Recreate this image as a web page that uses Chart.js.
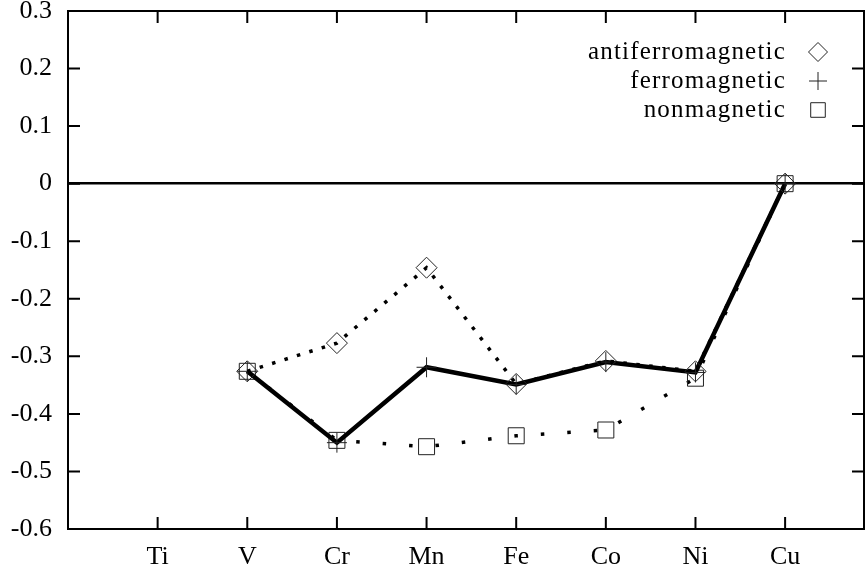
<!DOCTYPE html>
<html>
<head>
<meta charset="utf-8">
<script src="https://cdn.jsdelivr.net/npm/chart.js@4/dist/chart.umd.min.js"></script>
<style>
  body { margin: 0; background: #fff; }
  canvas { display: block; }
</style>
</head>
<body>
<canvas id="chart" width="865" height="571"></canvas>
<script>
var elements = ['Ti', 'V', 'Cr', 'Mn', 'Fe', 'Co', 'Ni', 'Cu'];
var yTicks = [-0.6, -0.5, -0.4, -0.3, -0.2, -0.1, 0, 0.1, 0.2, 0.3];

// values for V .. Cu
var seriesElements = ['V', 'Cr', 'Mn', 'Fe', 'Co', 'Ni', 'Cu'];
var antiferro = [-0.326, -0.277, -0.146, -0.348, -0.308, -0.326, 0];
var ferro = [-0.326, -0.45, -0.319, -0.349, -0.31, -0.328, 0];
var nonmag = [-0.326, -0.446, -0.457, -0.438, -0.428, -0.338, 0];

var serif = 'Liberation Serif, Times New Roman, serif';

var toPoints = function(values) {
    return values.map(function(v, i) {
        return { x: elements.indexOf(seriesElements[i]) + 1, y: v };
    });
};

// frame with inside ticks on all four sides
var frameTicks = {
    id: 'frameTicks',
    beforeDatasetsDraw: function(chart) {
        var ctx = chart.ctx, a = chart.chartArea;
        var xs = chart.scales.x, ys = chart.scales.y;
        ctx.save();
        ctx.strokeStyle = '#000';
        ctx.lineWidth = 2;
        ctx.strokeRect(a.left, a.top, a.right - a.left, a.bottom - a.top);
        ctx.beginPath();
        xs.ticks.forEach(function(t) {
            var px = xs.getPixelForValue(t.value);
            ctx.moveTo(px, a.bottom); ctx.lineTo(px, a.bottom - 12);
            ctx.moveTo(px, a.top); ctx.lineTo(px, a.top + 12);
        });
        ys.ticks.forEach(function(t) {
            var py = ys.getPixelForValue(t.value);
            ctx.moveTo(a.left, py); ctx.lineTo(a.left + 12, py);
            ctx.moveTo(a.right, py); ctx.lineTo(a.right - 12, py);
        });
        ctx.stroke();
        ctx.restore();
    }
};

// gnuplot style key: text right aligned, symbol after it
var keyBox = {
    id: 'keyBox',
    afterDraw: function(chart) {
        var ctx = chart.ctx;
        ctx.save();
        ctx.font = '25px ' + serif;
        ctx.letterSpacing = '1.2px';
        ctx.textAlign = 'right';
        ctx.textBaseline = 'middle';
        chart.data.datasets.forEach(function(ds, i) {
            var y = 52 + i * 29;
            ctx.fillStyle = '#000';
            ctx.fillText(ds.label, 786, y);
            ctx.fillStyle = 'rgba(0,0,0,0)';
            ctx.strokeStyle = '#222';
            ctx.lineWidth = 1;
            if (Chart.helpers && Chart.helpers.drawPoint) {
                Chart.helpers.drawPoint(ctx, {
                    pointStyle: ds.pointStyle,
                    radius: ds.pointRadius - 1,
                    borderWidth: 1,
                    rotation: 0
                }, 818, y);
            }
        });
        ctx.restore();
    }
};

new Chart(document.getElementById('chart'), {
    type: 'line',
    data: {
        datasets: [
            {
                label: 'antiferromagnetic',
                data: toPoints(antiferro),
                borderColor: '#000',
                borderWidth: 3.5,
                borderDash: [3.5, 9.5],
                pointStyle: 'rectRot',
                pointRadius: 10.5,
                pointBorderWidth: 1,
                pointBorderColor: '#222',
                pointBackgroundColor: 'rgba(0,0,0,0)'
            },
            {
                label: 'ferromagnetic',
                data: toPoints(ferro),
                borderColor: '#000',
                borderWidth: 4.5,
                pointStyle: 'cross',
                pointRadius: 10,
                pointBorderWidth: 1,
                pointBorderColor: '#222'
            },
            {
                label: 'nonmagnetic',
                data: toPoints(nonmag),
                borderColor: '#000',
                borderWidth: 3.5,
                borderDash: [3.5, 23],
                pointStyle: 'rect',
                pointRadius: 11.3,
                pointBorderWidth: 1,
                pointBorderColor: '#222',
                pointBackgroundColor: 'rgba(0,0,0,0)'
            }
        ]
    },
    options: {
        responsive: false,
        animation: false,
        layout: { autoPadding: false, padding: { top: 11, right: 1, left: 0, bottom: 0 } },
        plugins: {
            legend: { display: false },
            tooltip: { enabled: false }
        },
        elements: { line: { tension: 0, borderCapStyle: 'butt' } },
        scales: {
            x: {
                type: 'linear',
                min: 0,
                max: 8.88,
                afterBuildTicks: function(s) {
                    s.ticks = elements.map(function(e, i) { return { value: i + 1 }; });
                },
                afterFit: function(s) {
                    s.height = 42;
                    s.paddingLeft = 0;
                    s.paddingRight = 0;
                },
                grid: { display: false, drawTicks: false },
                border: { display: false },
                ticks: {
                    autoSkip: false,
                    maxRotation: 0,
                    padding: 13,
                    color: '#000',
                    font: { family: serif, size: 26 },
                    callback: function(v) { return elements[v - 1]; }
                }
            },
            y: {
                min: -0.6,
                max: 0.3,
                afterBuildTicks: function(s) {
                    s.ticks = yTicks.map(function(v) { return { value: v }; });
                },
                afterFit: function(s) {
                    s.width = 68;
                    s.paddingTop = 0;
                    s.paddingBottom = 0;
                },
                grid: {
                    drawTicks: false,
                    lineWidth: 2.5,
                    color: function(c) {
                        return c.tick && Math.abs(c.tick.value) < 1e-9 ? '#000' : 'rgba(0,0,0,0)';
                    }
                },
                border: { display: false },
                ticks: {
                    padding: 16,
                    color: '#000',
                    font: { family: serif, size: 26 },
                    callback: function(v) { return String(+v.toFixed(1)); }
                }
            }
        }
    },
    plugins: [frameTicks, keyBox]
});
</script>
</body>
</html>
